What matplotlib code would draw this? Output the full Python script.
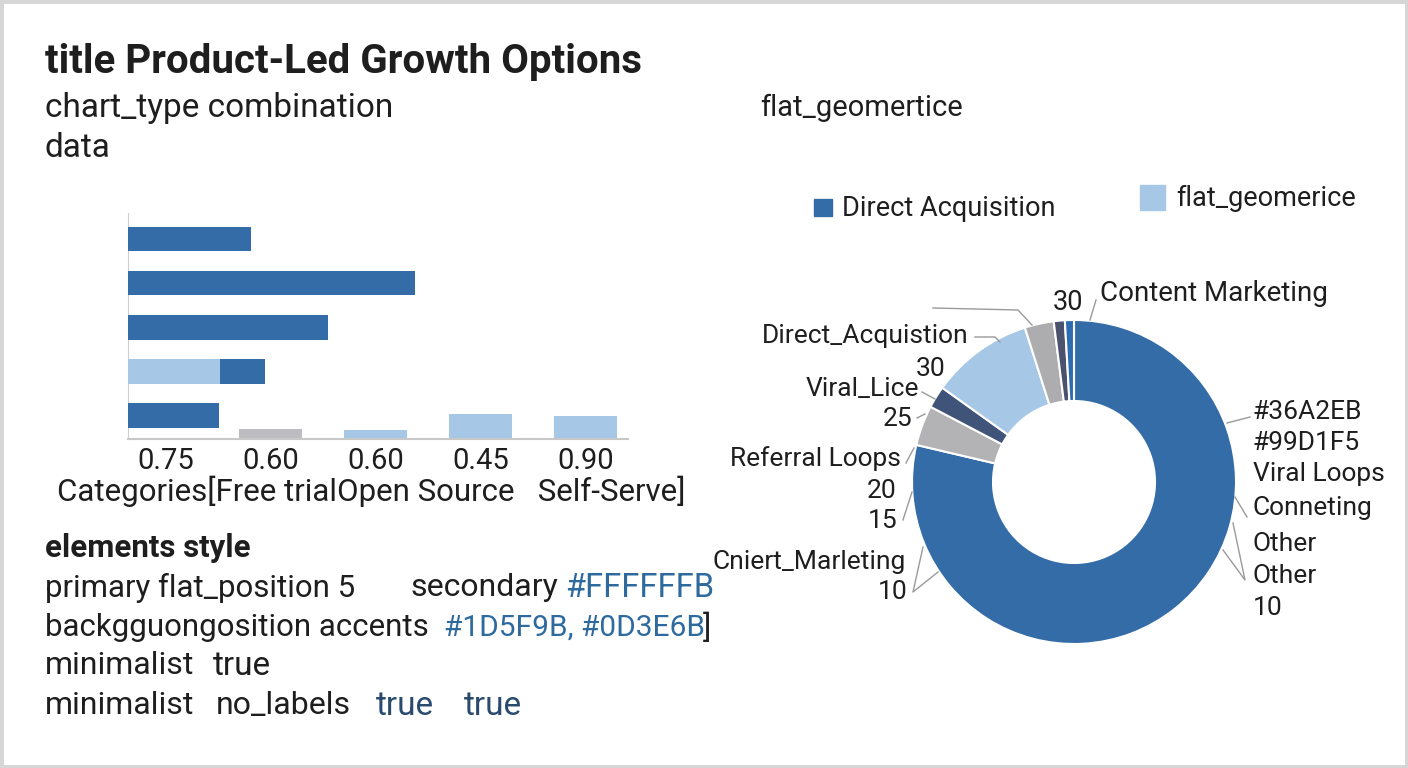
import matplotlib.pyplot as plt
from matplotlib.patches import Rectangle
from matplotlib.lines import Line2D

plt.rcParams['font.family'] = ['Roboto', 'DejaVu Sans']

W, H = 1408, 768
DARK = "#346CA8"
LIGHT = "#A6C8E6"
GRAY = "#BDBDC1"
INK = "#1E1E1E"
HEXBLUE = "#2E6A9E"

# --- bar panel data (rows listed bottom to top) ---
row_light = [0.0, 0.183, 0.0, 0.0, 0.0]
row_dark = [0.181, 0.091, 0.399, 0.573, 0.245]
col_heights = [0.0, 0.043, 0.040, 0.111, 0.102]
col_colors = [GRAY, GRAY, LIGHT, LIGHT, LIGHT]
tick_labels = ["0.75", "0.60", "0.60", "0.45", "0.90"]

# --- donut data (clockwise from 12 o'clock) ---
donut_values = [78.6, 4.0, 2.2, 10.2, 2.9, 1.1, 0.9]
donut_colors = [DARK, "#B3B3B5", "#3F5478", LIGHT, "#ADADB0", "#4B526E", "#2C6DB1"]
right_labels = ["#36A2EB", "#99D1F5", "Viral Loops", "Conneting", "Other", "Other", "10"]


def fx(x):
    return x / W


def fy(y):
    return 1 - y / H


def ftext(x, y, s, **kw):
    kw.setdefault("va", "center")
    kw.setdefault("color", INK)
    fig.text(fx(x), fy(y), s, **kw)


def fline(xs, ys, color="#9A9A9A", lw=1.0):
    fig.add_artist(Line2D([fx(v) for v in xs], [fy(v) for v in ys],
                          color=color, lw=lw))


fig = plt.figure(figsize=(W / 100, H / 100), dpi=100)
fig.patch.set_facecolor("white")
fig.add_artist(Rectangle((0, 0), 1, 1, transform=fig.transFigure, fill=False,
                         edgecolor="#D6D6D6", lw=5))

# header text
ftext(45, 62, "title Product-Led Growth Options", fontsize=29, weight="bold")
ftext(45, 108, "chart_type combination", fontsize=24)
ftext(45, 148, "data", fontsize=24)
ftext(760, 108, "flat_geomertice", fontsize=21)

# --- bar chart ---
rect = [fx(128), fy(439), fx(628) - fx(128), (439 - 213) / H]
ax_v = fig.add_axes(rect)
ax_h = fig.add_axes(rect)
ax_h.patch.set_alpha(0)

cols = list(range(len(tick_labels)))
ax_v.bar(cols, col_heights, width=0.6, color=col_colors)
ax_v.set_xlim(-0.358, 4.408)
ax_v.set_ylim(0, 1)
ax_v.set_xticks(cols)
ax_v.set_xticklabels(tick_labels, fontsize=21, color=INK)
ax_v.tick_params(length=0, pad=6)
ax_v.set_yticks([])
for s in ["top", "right"]:
    ax_v.spines[s].set_visible(False)
ax_v.spines["left"].set_color("#CFCFCF")
ax_v.spines["bottom"].set_color("#C8C8C8")
ax_v.spines["bottom"].set_linewidth(1.5)

rows = list(range(len(row_dark)))
ax_h.barh(rows, row_light, height=0.554, color=LIGHT)
ax_h.barh(rows, row_dark, left=row_light, height=0.554, color=DARK)
ax_h.set_xlim(0, 1)
ax_h.set_ylim(-0.527, 4.586)
ax_h.axis("off")

ftext(57, 491, "Categories[Free trialOpen Source   Self-Serve]", fontsize=22.5)

# --- lower text block ---
ftext(45, 548, "elements style", fontsize=22.5, weight="bold")
ftext(45, 588, "primary flat_position 5", fontsize=22.5)
ftext(410, 588, "secondary", fontsize=23)
ftext(565, 588, "#FFFFFFB", fontsize=23.5, color=HEXBLUE)
ftext(45, 628, "backgguongosition accents", fontsize=22.5)
ftext(444, 628, "#1D5F9B, #0D3E6B", fontsize=21.5, color=HEXBLUE)
ftext(703, 628, "]", fontsize=22.5)
ftext(45, 666, "minimalist", fontsize=23)
ftext(213, 666, "true", fontsize=24)
ftext(45, 706, "minimalist", fontsize=23)
ftext(216, 706, "no_labels", fontsize=23)
ftext(376, 706, "true", fontsize=24, color="#2A4B6E")
ftext(464, 706, "true", fontsize=24, color="#2A4B6E")

# --- legend ---
fig.add_artist(Rectangle((fx(814), fy(216)), 18 / W, 17 / H,
                         transform=fig.transFigure, color=DARK))
ftext(842, 208, "Direct Acquisition", fontsize=19.5)
fig.add_artist(Rectangle((fx(1140), fy(210)), 25 / W, 25 / H,
                         transform=fig.transFigure, color=LIGHT))
ftext(1176, 198, "flat_geomerice", fontsize=19.5)

# --- donut ---
cx, cy, R = 1074, 482, 162
half = 200
ax_p = fig.add_axes([fx(cx - half), fy(cy + half), 2 * half / W, 2 * half / H])
ax_p.pie(donut_values, colors=donut_colors, startangle=90, counterclock=False,
         radius=1, wedgeprops=dict(width=0.5, edgecolor="white", linewidth=1.5))
ax_p.set_xlim(-half / R, half / R)
ax_p.set_ylim(-half / R, half / R)
ax_p.axis("off")

# donut labels
ftext(1068, 302, "30", fontsize=19.5, ha="center")
ftext(1100, 293, "Content Marketing", fontsize=20)
ftext(968, 336, "Direct_Acquistion", fontsize=19, ha="right")
ftext(916, 369, "30", fontsize=19)
ftext(919, 389, "Viral_Lice", fontsize=19, ha="right")
ftext(912, 419, "25", fontsize=19, ha="right")
ftext(901, 459, "Referral Loops", fontsize=19, ha="right")
ftext(897, 491, "20", fontsize=19, ha="right")
ftext(897, 521, "15", fontsize=19, ha="right")
ftext(906, 562, "Cniert_Marleting", fontsize=19, ha="right")
ftext(908, 592, "10", fontsize=19, ha="right")
right_y = [412, 443, 474, 508, 544, 576, 608]
for lab, yy in zip(right_labels, right_y):
    ftext(1253, yy, lab, fontsize=19)

# leader lines
fline([1096, 1090], [300, 320])
fline([933, 1018, 1032], [308, 310, 325])
fline([975, 995, 1000], [337, 337, 342])
fline([922, 935], [392, 399])
fline([917, 925], [418, 414])
fline([906, 914], [463, 448])
fline([903, 912], [520, 492])
fline([923, 913, 938], [547, 592, 572])
fline([1250, 1227], [417, 423])
fline([1247, 1235], [517, 497])
fline([1233, 1245, 1223], [523, 580, 550])

fig.savefig("out.png", dpi=100, facecolor="white")
